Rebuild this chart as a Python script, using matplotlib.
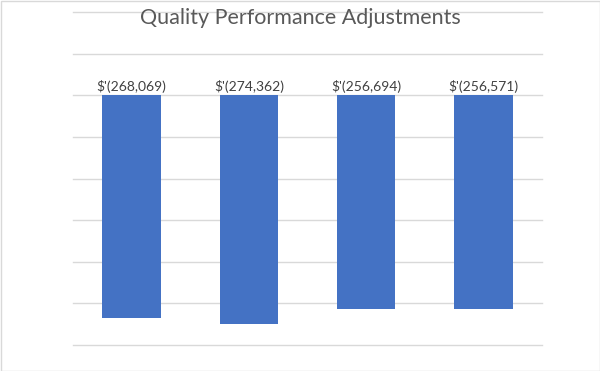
import matplotlib
matplotlib.use("Agg")
import matplotlib.pyplot as plt

categories = ["Q1", "Q2", "Q3", "Q4"]
adjustments = [-268069, -274362, -256694, -256571]
labels = ["$'(268,069)", "$'(274,362)", "$'(256,694)", "$'(256,571)"]

plt.rcParams["font.family"] = ["Lato", "DejaVu Sans"]

fig = plt.figure(figsize=(6, 3.71), dpi=100)
ax = fig.add_axes([73 / 600, 1 - 345 / 371, 469 / 600, 333 / 371])

x = range(len(categories))
ax.bar(x, adjustments, width=0.5, color="#4472C4", zorder=3)

for xi, v, lab in zip(x, adjustments, labels):
    ax.text(xi, 3000, lab, ha="center", va="bottom", fontsize=10, color="#404040", zorder=4)

ax.set_xlim(-0.5, len(categories) - 0.5)
ax.set_ylim(-300000, 100000)
ax.set_yticks(range(-300000, 100001, 50000))
ax.grid(axis="y", color="#d9d9d9", linewidth=1, zorder=0)
for gl in ax.get_ygridlines():
    gl.set_clip_on(False)
ax.tick_params(left=False, bottom=False, labelleft=False, labelbottom=False)
for s in ax.spines.values():
    s.set_visible(False)

fig.text(0.5, 1 - 18 / 371, "Quality Performance Adjustments", ha="center", va="center",
         fontsize=15.5, color="#595959")

fig.patches.append(plt.Rectangle((0.5 / 600, 0.5 / 371), 599 / 600, 370 / 371, transform=fig.transFigure,
                                 fill=False, edgecolor="#d9d9d9", linewidth=1))

fig.savefig("out.png", dpi=100)
